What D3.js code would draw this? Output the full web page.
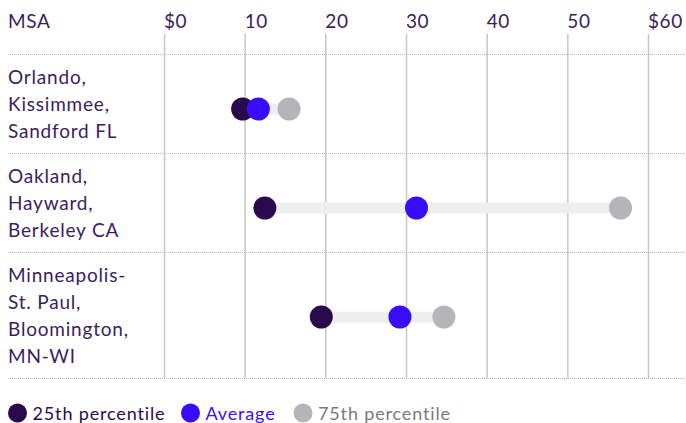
<!DOCTYPE html>
<html>
<head>
<meta charset="utf-8">
<script src="https://cdn.jsdelivr.net/npm/d3@7"></script>
<style>
  body { margin: 0; background: #fff; }
  svg { display: block; font-family: Lato, "Noto Sans", sans-serif; }
</style>
</head>
<body>
<div id="chart"></div>
<script>
// data
const msas = [
    ["Orlando,", "Kissimmee,", "Sandford FL"],
    ["Oakland,", "Hayward,", "Berkeley CA"],
    ["Minneapolis-", "St. Paul,", "Bloomington,", "MN-WI"]
];
const p25 = [9.75, 12.5, 19.5];
const avg = [11.7, 31.3, 29.25];
const p75 = [15.5, 56.6, 34.7];
const ticks = [0, 10, 20, 30, 40, 50, 60];
const seriesNames = ["25th percentile", "Average", "75th percentile"];

const width = 686, height = 423;
const colors = ["#2a0a4c", "#3a0cff", "#b5b4b9"];
const legendText = ["#2a0a4c", "#3a0cff", "#7a7a7e"];
const textColor = "#3b1d62";

const svg = d3.select("#chart").append("svg")
    .attr("width", width)
    .attr("height", height);

const x = d3.scaleLinear().domain([0, 60]).range([164, 648]);

// rows: height depends on how many lines the label has
const lineH = 27, rowPad = 18, gridTop = 54;
let y0 = gridTop;
const rows = msas.map((lines, i) => {
    const h = lines.length * lineH + rowPad;
    const r = { i, lines, top: y0, h };
    y0 += h;
    return r;
});
const gridBottom = y0;

// header
svg.append("text")
    .attr("x", 8).attr("y", 28)
    .attr("fill", textColor)
    .attr("font-size", 19)
    .attr("letter-spacing", 0.6)
    .text("MSA");

svg.selectAll(".tick-label")
    .data(ticks)
    .join("text")
    .attr("x", d => x(d))
    .attr("y", 28)
    .attr("fill", textColor)
    .attr("font-size", 19)
    .attr("letter-spacing", 0.6)
    .text((d, i) => (i === 0 || i === ticks.length - 1) ? "$" + d : d);

// vertical grid
svg.selectAll(".vgrid")
    .data(ticks)
    .join("line")
    .attr("x1", d => x(d) + 0.5).attr("x2", d => x(d) + 0.5)
    .attr("y1", 34).attr("y2", gridBottom)
    .attr("stroke", "#c6c6c6")
    .attr("stroke-width", 1.5);

// dotted row separators
svg.selectAll(".hgrid")
    .data([gridTop, ...rows.map(r => r.top + r.h)])
    .join("line")
    .attr("x1", 8).attr("x2", width)
    .attr("y1", d => d + 0.5).attr("y2", d => d + 0.5)
    .attr("stroke", "#b8b8b8")
    .attr("stroke-dasharray", "1 1");

// row labels
const label = svg.selectAll(".label")
    .data(rows)
    .join("text")
    .attr("fill", textColor)
    .attr("font-size", 19)
    .attr("letter-spacing", 0.8);
label.selectAll("tspan")
    .data(r => r.lines.map((t, j) => ({ t, y: r.top + 30 + j * lineH })))
    .join("tspan")
    .attr("x", 8)
    .attr("y", d => d.y)
    .text(d => d.t);

const cy = r => r.top + 55 + (r.lines.length - 3) * 10;

// range bars
svg.selectAll(".range")
    .data(rows)
    .join("line")
    .attr("x1", r => x(p25[r.i])).attr("x2", r => x(p75[r.i]))
    .attr("y1", cy).attr("y2", cy)
    .attr("stroke", "#eeeeee")
    .attr("stroke-width", 11);

// dots: 75th first, then 25th, average on top
[[p75, 2], [p25, 0], [avg, 1]].forEach(([vals, c]) => {
    svg.append("g").selectAll("circle")
        .data(rows)
        .join("circle")
        .attr("cx", r => x(vals[r.i]))
        .attr("cy", cy)
        .attr("r", 11.5)
        .attr("fill", colors[c]);
});

// legend
const legendX = [17.5, 190.5, 303];
const leg = svg.selectAll(".legend")
    .data(seriesNames)
    .join("g")
    .attr("transform", (d, i) => `translate(${legendX[i]},413)`);
leg.append("circle")
    .attr("r", 9.5)
    .attr("fill", (d, i) => colors[i]);
leg.append("text")
    .attr("x", 15)
    .attr("y", 7)
    .attr("font-size", 18)
    .attr("letter-spacing", 0.85)
    .attr("fill", (d, i) => legendText[i])
    .text(d => d);
</script>
</body>
</html>
